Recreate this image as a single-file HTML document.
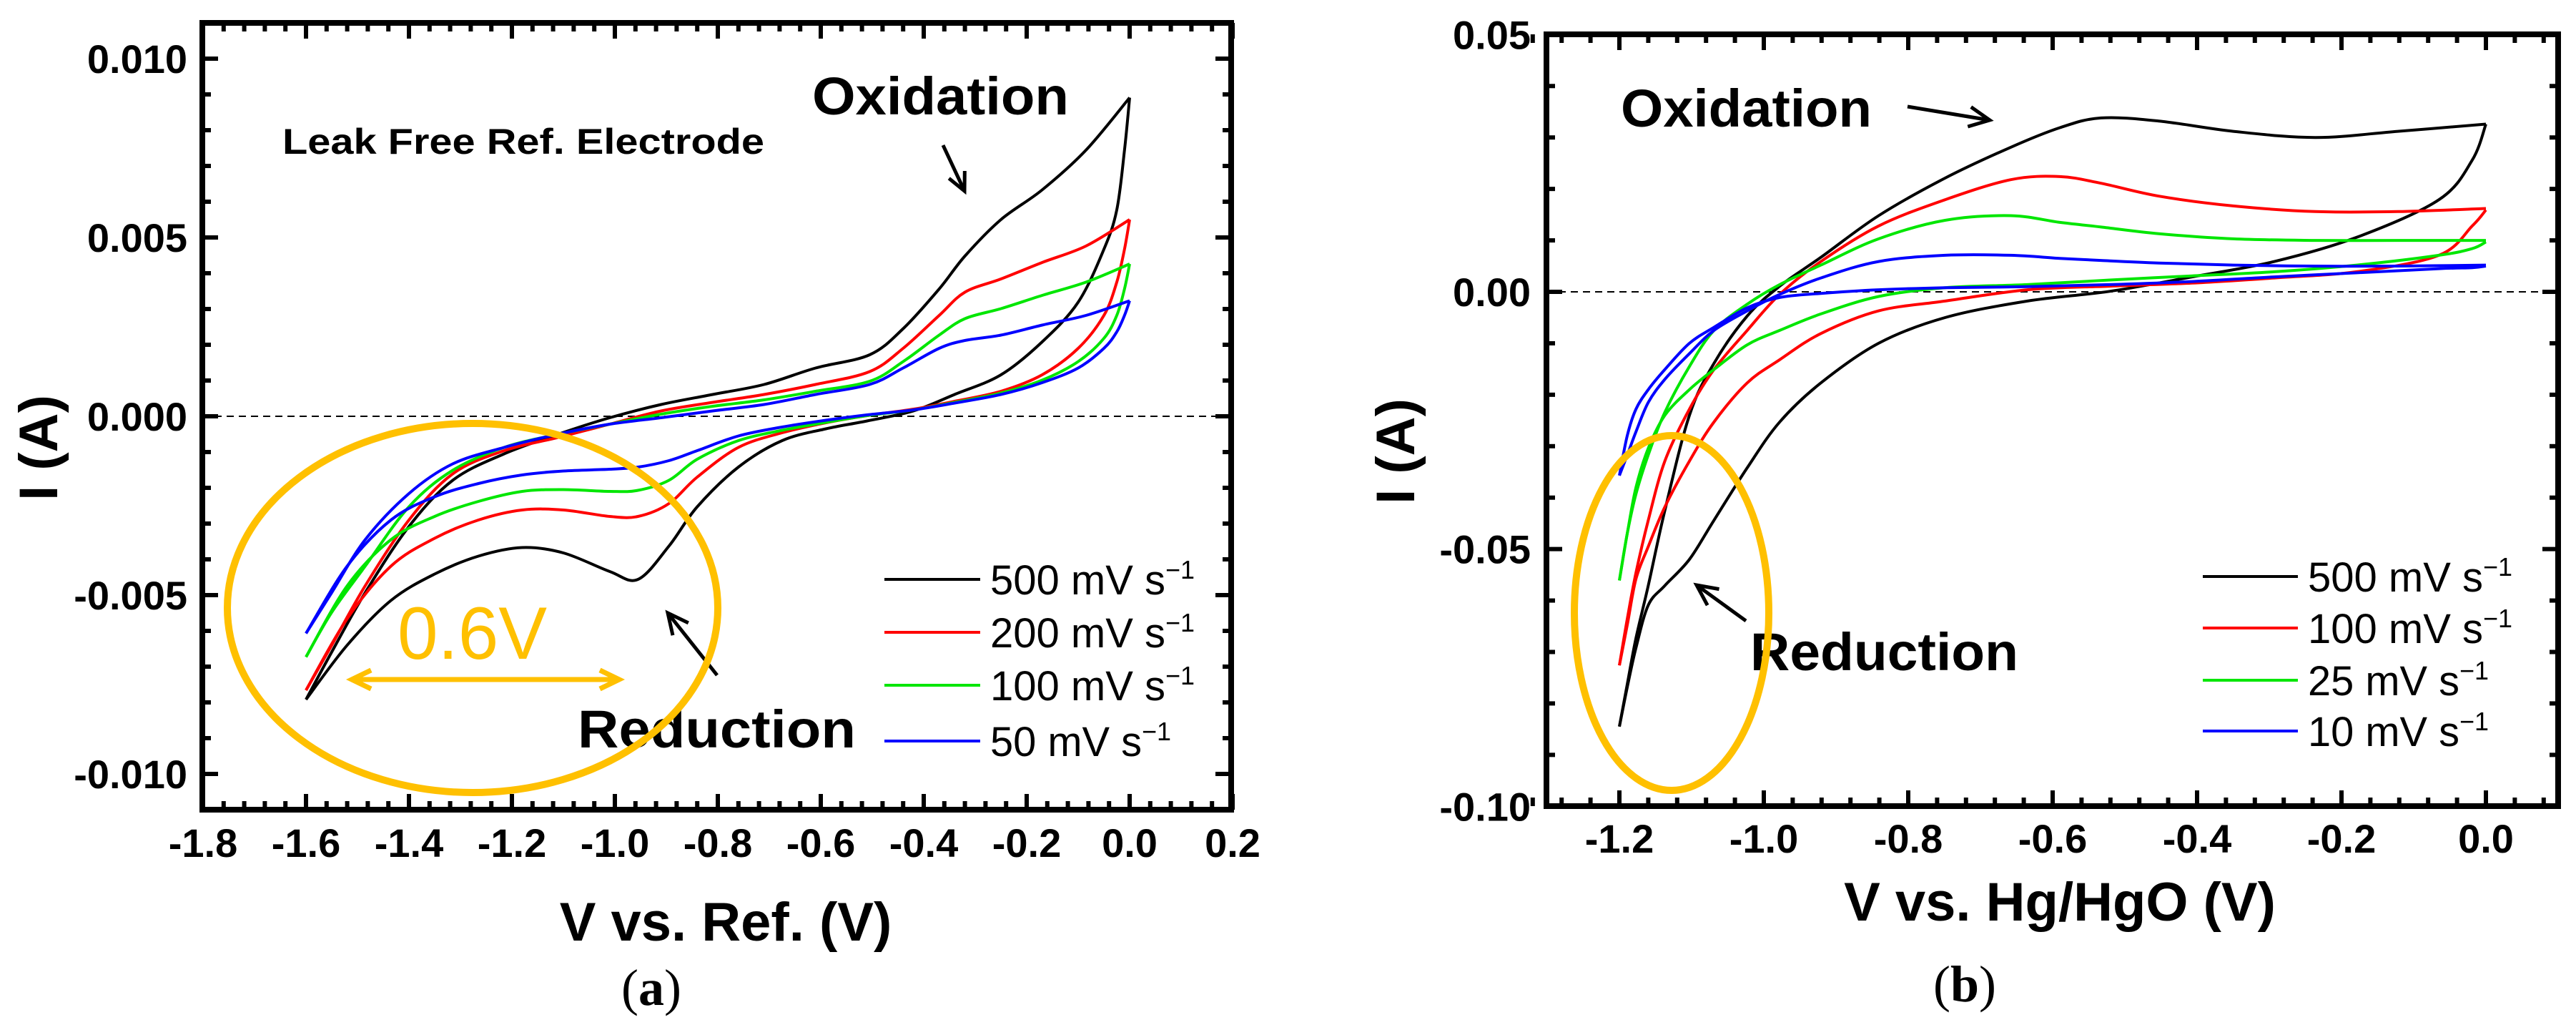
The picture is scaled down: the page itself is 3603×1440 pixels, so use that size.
<!DOCTYPE html>
<html><head><meta charset="utf-8"><style>
html,body{margin:0;padding:0;background:#fff;}
svg{display:block;}
text{font-family:"Liberation Sans",Arial,sans-serif;}
</style></head><body>
<svg id="fig" width="3603" height="1440" viewBox="0 0 3603 1440" xmlns="http://www.w3.org/2000/svg">
<g id="pa"></g>
<g id="pb"></g>
</svg>
<script>
// ---------- Panel (a) data : V (volts), I (mA) ----------
const aUpV = [-1.6,-1.55,-1.485,-1.4,-1.315,-1.215,-1.11,-1.01,-0.91,-0.81,-0.71,-0.61,-0.505,-0.44,-0.37,-0.32,-0.25,-0.17,-0.085,0];
const aDownV = [0,-0.01,-0.025,-0.05,-0.1,-0.17,-0.25,-0.34,-0.42,-0.51,-0.59,-0.675,-0.76,-0.84,-0.895,-0.955,-1.01,-1.1,-1.18,-1.265,-1.35,-1.435,-1.52,-1.6];
const a500Up = [-7.92,-6.59,-4.93,-3.08,-1.79,-1.05,-0.50,-0.04,0.33,0.61,0.89,1.35,1.72,2.45,3.56,4.48,5.50,6.33,7.44,8.91];
const a500Down = [8.91,7.44,5.77,4.67,3.19,2.08,1.16,0.61,0.15,-0.13,-0.35,-0.68,-1.42,-2.53,-3.63,-4.56,-4.34,-3.82,-3.67,-3.91,-4.41,-5.15,-6.40,-7.92];
const a200Up = [-7.66,-6.40,-4.74,-2.90,-1.61,-0.96,-0.59,-0.22,0.15,0.39,0.61,0.89,1.25,1.90,2.82,3.47,3.84,4.30,4.76,5.50];
const a200Down = [5.50,4.67,3.75,2.82,1.90,1.16,0.70,0.42,0.20,0.02,-0.18,-0.46,-0.87,-1.70,-2.44,-2.80,-2.80,-2.62,-2.62,-2.90,-3.41,-4.19,-5.66,-7.66];
const a100Up = [-6.73,-5.48,-4.19,-2.53,-1.51,-0.87,-0.50,-0.22,0.06,0.28,0.46,0.70,0.98,1.53,2.27,2.73,3.01,3.38,3.75,4.26];
const a100Down = [4.26,3.56,2.82,2.18,1.53,1.01,0.65,0.39,0.18,0.02,-0.17,-0.39,-0.68,-1.20,-1.79,-2.07,-2.10,-2.05,-2.10,-2.38,-2.80,-3.45,-4.74,-6.73];
const a50Up = [-6.07,-4.93,-3.45,-2.16,-1.33,-0.87,-0.50,-0.22,-0.04,0.15,0.33,0.61,0.89,1.35,1.90,2.12,2.27,2.55,2.82,3.23];
const a50Down = [3.23,2.82,2.36,1.90,1.35,0.94,0.61,0.37,0.18,0.04,-0.11,-0.30,-0.55,-0.96,-1.24,-1.42,-1.48,-1.53,-1.64,-1.88,-2.25,-2.90,-4.19,-6.07];
const aXTicks = ["-1.8","-1.6","-1.4","-1.2","-1.0","-0.8","-0.6","-0.4","-0.2","0.0","0.2"];
const aYTicks = ["0.010","0.005","0.000","-0.005","-0.010"];
const aLegend = ["500 mV s","200 mV s","100 mV s","50 mV s"];

// ---------- Panel (b) data : V (volts), I (mA) ----------
const bUpV = [-1.2,-1.189,-1.177,-1.16,-1.137,-1.103,-1.069,-1.023,-0.978,-0.921,-0.841,-0.749,-0.658,-0.59,-0.533,-0.453,-0.35,-0.236,-0.122,0];
const bDownV = [0,-0.019,-0.065,-0.179,-0.293,-0.407,-0.521,-0.635,-0.749,-0.841,-0.921,-0.978,-1.023,-1.069,-1.103,-1.137,-1.16,-1.177,-1.189,-1.2];
const b500Up = [-84.5,-76.2,-67.3,-57.1,-42.5,-24.0,-13.9,-4.7,1.1,6.7,14.8,22.1,28.1,31.9,33.8,33.2,31.2,30.0,31.2,32.6];
const b500Down = [32.6,25.6,17.9,10.6,5.9,2.9,0.1,-1.8,-5.0,-10.0,-17.7,-25.3,-34.2,-44.4,-52.0,-57.1,-60.9,-69.2,-76.8,-84.5];
const b100Up = [-72.6,-63.5,-54.6,-44.4,-32.9,-22.8,-15.1,-7.5,-0.5,5.9,12.8,17.9,21.8,22.4,21.1,18.6,16.7,15.6,15.6,16.2];
const b100Down = [15.9,12.8,7.1,3.9,2.7,1.7,1.1,0.4,-1.8,-3.7,-8.1,-13.2,-17.7,-25.3,-32.9,-41.8,-49.5,-55.8,-64.7,-72.6];
const b25Up = [-56.1,-46.9,-39.3,-31.7,-23.4,-14.5,-7.5,-2.4,1.4,5.2,10.3,13.9,14.8,13.5,12.6,11.3,10.3,10.0,10.0,10.0];
const b25Down = [9.7,8.4,7.1,5.2,3.9,3.1,2.3,1.4,0.8,-0.9,-4.3,-7.5,-10.3,-15.1,-19.0,-24.0,-30.4,-38.0,-46.9,-56.1];
const b10Up = [-35.7,-31.7,-27.2,-21.5,-17.0,-12.0,-7.5,-3.7,-0.5,2.7,5.9,7.1,7.1,6.5,6.1,5.6,5.2,5.0,5.0,5.2];
const b10Down = [5.0,4.7,4.5,3.7,2.9,2.0,1.4,1.0,0.8,0.4,-0.3,-1.1,-3.1,-6.9,-10.0,-15.1,-19.0,-22.8,-27.9,-35.7];
const bXTicks = ["-1.2","-1.0","-0.8","-0.6","-0.4","-0.2","0.0"];
const bYTicks = ["0.05","0.00","-0.05","-0.10"];
const bLegend = ["500 mV s","100 mV s","25 mV s","10 mV s"];

const NS = "http://www.w3.org/2000/svg";
function mk(parent, tag, attrs, txt){
  const e = document.createElementNS(NS, tag);
  for (const k in attrs) e.setAttribute(k, attrs[k]);
  if (txt !== undefined) e.textContent = txt;
  parent.appendChild(e);
  return e;
}
function curve(g, X, Y, vs, is, color, name){
  const P = vs.map((v,i) => [X(v), Y(is[i])]);
  let d = "M" + P[0][0].toFixed(1) + "," + P[0][1].toFixed(1);
  for (let i=0;i<P.length-1;i++){
    const p0 = P[Math.max(0,i-1)], p1 = P[i], p2 = P[i+1], p3 = P[Math.min(P.length-1,i+2)];
    const t = 0.5/3;
    const c1 = [p1[0]+(p2[0]-p0[0])*t, p1[1]+(p2[1]-p0[1])*t];
    const c2 = [p2[0]-(p3[0]-p1[0])*t, p2[1]-(p3[1]-p1[1])*t];
    d += "C" + c1[0].toFixed(1)+","+c1[1].toFixed(1)+" "+c2[0].toFixed(1)+","+c2[1].toFixed(1)+" "+p2[0].toFixed(1)+","+p2[1].toFixed(1);
  }
  const p = mk(g, "path", {d:d, fill:"none", stroke:color, "stroke-width":4, "stroke-linejoin":"round"});
  
  
}
function arrowLine(g, x1,y1,x2,y2, color, w, head, name){
  const grp = mk(g, "g", {});
  
  
  mk(grp, "line", {x1:x1,y1:y1,x2:x2,y2:y2,stroke:color,"stroke-width":w});
  const a = Math.atan2(y2-y1, x2-x1), L = head;
  const p1 = [x2 - L*Math.cos(a-0.45), y2 - L*Math.sin(a-0.45)];
  const p2 = [x2 - L*Math.cos(a+0.45), y2 - L*Math.sin(a+0.45)];
  mk(grp, "polyline", {points:p1.join(",")+" "+x2+","+y2+" "+p2.join(","), fill:"none", stroke:color, "stroke-width":w, "stroke-linejoin":"miter"});
}
function frame(g, L, R, T, B, X, Y, xMajor, xMinorStep, xMin, xMax, yMajorVals, yMinorStep, yMin, yMax){
  const f = mk(g, "rect", {x:L, y:T, width:R-L, height:B-T, fill:"none", stroke:"#000", "stroke-width":8});
  
  
  const tg = mk(g, "g", {stroke:"#000", "stroke-width":6});
  
  
  const nx = Math.round((xMax-xMin)/xMinorStep);
  for (let i=0;i<=nx;i++){
    const v = xMin + i*xMinorStep, x = X(v);
    const major = xMajor.some(m => Math.abs(m-v) < 1e-6);
    const len = major ? 22 : 12;
    mk(tg, "line", {x1:x, y1:B, x2:x, y2:B-len});
    mk(tg, "line", {x1:x, y1:T, x2:x, y2:T+len});
  }
  const ny = Math.round((yMax-yMin)/yMinorStep);
  for (let i=0;i<=ny;i++){
    const v = yMin + i*yMinorStep, y = Y(v);
    const major = yMajorVals.some(m => Math.abs(m-v) < 1e-6);
    const len = major ? 22 : 12;
    mk(tg, "line", {x1:L, y1:y, x2:L+len, y2:y});
    mk(tg, "line", {x1:R, y1:y, x2:R-len, y2:y});
  }
}
function legend(g, x1, x2, tx, ys, labels, colors, fs, widths){
  labels.forEach((lab, i) => {
    const eg = mk(g, "g", {});
    
    
    mk(eg, "line", {x1:x1, y1:ys[i], x2:x2, y2:ys[i], stroke:colors[i], "stroke-width":4});
    const t = mk(eg, "text", {x:tx, y:ys[i]+fs*0.36, "font-size":fs, fill:"#000"});
    mk(t, "tspan", {textLength:widths[i], lengthAdjust:"spacingAndGlyphs"}, lab);
    mk(t, "tspan", {dy:-fs*0.38, "font-size":fs*0.62}, "\u22121");
  });
}

// ===== Panel A =====
(function(){
  const g = document.getElementById("pa");
  const L=283, R=1722, T=32, B=1132;
  const X = v => 284 + (v + 1.8) * 720;
  const Y = i => 582 - i * 50;          // i in mA
  frame(g, L, R, T, B, X, Y, aXTicks.map(Number), 0.04, -1.8, 0.2, [10,5,0,-5,-10], 1, -11, 11);
  const z = mk(g, "line", {x1:L, y1:Y(0), x2:R, y2:Y(0), stroke:"#000", "stroke-width":2, "stroke-dasharray":"10,7"});
  
  
  const xl = mk(g, "g", {"font-size":56, "font-weight":"bold", "text-anchor":"middle", fill:"#000"});
  
  
  aXTicks.forEach(t => mk(xl, "text", {x:X(Number(t)), y:1198}, t));
  const yl = mk(g, "g", {"font-size":56, "font-weight":"bold", "text-anchor":"end", fill:"#000"});
  
  
  aYTicks.forEach(t => mk(yl, "text", {x:262, y:Y(Number(t)*1000)+20}, t));
  const xt = mk(g, "text", {x:1015, y:1315, "font-size":76, "font-weight":"bold", "text-anchor":"middle"}, "V vs. Ref.  (V)");
  
  
  const yt = mk(g, "text", {x:0, y:0, "font-size":76, "font-weight":"bold", "text-anchor":"middle", transform:"translate(80,626) rotate(-90)"}, "I (A)");
  
  
  const cap = mk(g, "text", {x:911, y:1405, "font-size":72, "text-anchor":"middle", style:'font-family:"Liberation Serif",serif'});
  
  
  mk(cap, "tspan", {}, "(");
  mk(cap, "tspan", {"font-weight":"bold"}, "a");
  mk(cap, "tspan", {}, ")");

  curve(g, X, Y, aUpV, a500Up, "#000", "series-500-forward");
  curve(g, X, Y, aDownV, a500Down, "#000", "series-500-reverse");
  curve(g, X, Y, aUpV, a200Up, "#ff0000", "series-200-forward");
  curve(g, X, Y, aDownV, a200Down, "#ff0000", "series-200-reverse");
  curve(g, X, Y, aUpV, a100Up, "#00e600", "series-100-forward");
  curve(g, X, Y, aDownV, a100Down, "#00e600", "series-100-reverse");
  curve(g, X, Y, aUpV, a50Up, "#0000ff", "series-50-forward");
  curve(g, X, Y, aDownV, a50Down, "#0000ff", "series-50-reverse");

  const lf = mk(g, "text", {x:395, y:215, "font-size":50, "font-weight":"bold", textLength:674, lengthAdjust:"spacingAndGlyphs"}, "Leak Free Ref. Electrode");
  
  
  const ox = mk(g, "text", {x:1136, y:160, "font-size":74, "font-weight":"bold", textLength:359, lengthAdjust:"spacingAndGlyphs"}, "Oxidation");
  
  
  arrowLine(g, 1319, 203, 1349, 267, "#000", 5, 28, "oxidation-arrow");
  const rd = mk(g, "text", {x:808, y:1045, "font-size":74, "font-weight":"bold", textLength:389, lengthAdjust:"spacingAndGlyphs"}, "Reduction");
  
  
  arrowLine(g, 1003, 944, 934, 857, "#000", 5, 32, "reduction-arrow");

  const el = mk(g, "ellipse", {cx:661, cy:850, rx:343, ry:258, fill:"none", stroke:"#ffc000", "stroke-width":10});
  
  
  const sv = mk(g, "text", {x:556, y:921, "font-size":104, fill:"#ffc000", textLength:209, lengthAdjust:"spacingAndGlyphs"}, "0.6V");
  
  
  arrowLine(g, 530, 950, 492, 950, "#ffc000", 7, 30, "shift-arrow-left");
  arrowLine(g, 500, 950, 866, 950, "#ffc000", 7, 30, "shift-arrow-right");

  legend(g, 1237, 1371, 1385, [810,884,958,1036], aLegend, ["#000","#ff0000","#00e600","#0000ff"], 58, [245,245,245,212]);
})();

// ===== Panel B =====
(function(){
  const g = document.getElementById("pb");
  const L=2163, R=3578, T=48, B=1127;
  const X = v => 2265 + (v + 1.2) * 1010;
  const Y = i => 408 - i * 7.193;       // i in mA
  frame(g, L, R, T, B, X, Y, [-1.2,-1.0,-0.8,-0.6,-0.4,-0.2,0.0], 0.04, -1.32, 0.08, [50,0,-50,-100], 10, -100, 50);
  const z = mk(g, "line", {x1:L, y1:Y(0), x2:R, y2:Y(0), stroke:"#000", "stroke-width":2, "stroke-dasharray":"10,7"});
  
  
  const xl = mk(g, "g", {"font-size":56, "font-weight":"bold", "text-anchor":"middle", fill:"#000"});
  
  
  bXTicks.forEach(t => mk(xl, "text", {x:X(Number(t)), y:1192}, t));
  const yl = mk(g, "g", {"font-size":56, "font-weight":"bold", "text-anchor":"end", fill:"#000"});
  
  
  bYTicks.forEach(t => mk(yl, "text", {x:2141, y:Y(Number(t)*1000)+20}, t));
  const xt = mk(g, "text", {x:2881, y:1287, "font-size":76, "font-weight":"bold", "text-anchor":"middle"}, "V vs. Hg/HgO (V)");
  
  
  const yt = mk(g, "text", {x:0, y:0, "font-size":76, "font-weight":"bold", "text-anchor":"middle", transform:"translate(1978,631) rotate(-90)"}, "I (A)");
  
  
  const cap = mk(g, "text", {x:2748, y:1400, "font-size":72, "text-anchor":"middle", style:'font-family:"Liberation Serif",serif'});
  
  
  mk(cap, "tspan", {}, "(");
  mk(cap, "tspan", {"font-weight":"bold"}, "b");
  mk(cap, "tspan", {}, ")");

  curve(g, X, Y, bUpV, b500Up, "#000", "series-500-forward");
  curve(g, X, Y, bDownV, b500Down, "#000", "series-500-reverse");
  curve(g, X, Y, bUpV, b100Up, "#ff0000", "series-100-forward");
  curve(g, X, Y, bDownV, b100Down, "#ff0000", "series-100-reverse");
  curve(g, X, Y, bUpV, b25Up, "#00e600", "series-25-forward");
  curve(g, X, Y, bDownV, b25Down, "#00e600", "series-25-reverse");
  curve(g, X, Y, bUpV, b10Up, "#0000ff", "series-10-forward");
  curve(g, X, Y, bDownV, b10Down, "#0000ff", "series-10-reverse");

  const ox = mk(g, "text", {x:2267, y:177, "font-size":74, "font-weight":"bold", textLength:351, lengthAdjust:"spacingAndGlyphs"}, "Oxidation");
  
  
  arrowLine(g, 2668, 149, 2783, 168, "#000", 5, 32, "oxidation-arrow");
  const rd = mk(g, "text", {x:2448, y:937, "font-size":74, "font-weight":"bold", textLength:375, lengthAdjust:"spacingAndGlyphs"}, "Reduction");
  
  
  arrowLine(g, 2442, 868, 2373, 818, "#000", 5, 32, "reduction-arrow");

  const el = mk(g, "ellipse", {cx:2338, cy:857, rx:136, ry:248, fill:"none", stroke:"#ffc000", "stroke-width":10});
  
  

  legend(g, 3081, 3214, 3228, [806,878,951,1022], bLegend, ["#000","#ff0000","#00e600","#0000ff"], 58, [245,245,212,212]);
})();
</script>
</body></html>
